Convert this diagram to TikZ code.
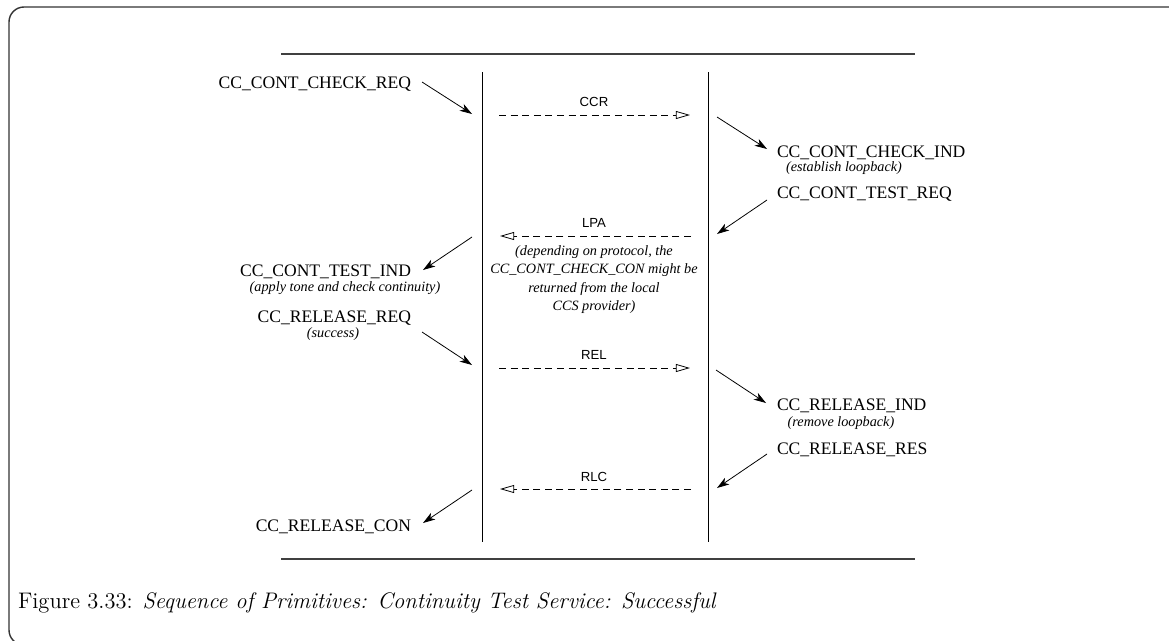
\documentclass[tikz,border=0pt]{standalone}
\usepackage{fontspec}
\newfontfamily\timesfont{Liberation Serif}
\newfontfamily\helvfont{Liberation Sans}
\usepackage{tikz}
\usetikzlibrary{positioning}
\usetikzlibrary{calc}
\usetikzlibrary{arrows.meta}

\begin{document}
\begin{tikzpicture}[
    x=0.2mm, y=-0.2mm,          % one unit is one pixel of the layout
    every node/.style={inner sep=0pt, outer sep=0pt},
    ]
% -------------------------------------------------
\tikzset{
  prim/.style={font=\timesfont\fontsize{10}{12}\selectfont},
  note/.style={font=\timesfont\itshape\fontsize{8.1}{10.3}\selectfont, align=center},
  msglabel/.style={font=\helvfont\fontsize{7.5}{9}\selectfont},
  rule/.style={draw, black!75, line width=0.8pt},
  life/.style={draw, line width=0.45pt},
  msg/.style={draw, line width=0.45pt, dash pattern=on 4pt off 2.6pt,
    shorten <=3.4mm, shorten >=3.6mm, -{Triangle[open, length=8pt, width=4.5pt]}},
  line/.style={draw, line width=0.45pt, -{Stealth[length=7pt, width=4.5pt, inset=2pt]}}
}
\useasboundingbox (0,0) rectangle (1169,640);
\draw[black!80, line width=0.8pt, rounded corners=3mm] (9,7) rectangle (1190,645);
% -------------------------------------------------
% Rules and the two lifelines

\coordinate (h0) at (281,54);
\coordinate (h1) at (915,54);
\coordinate (h2) at (281,559);
\coordinate (h3) at (915,559);
\path [rule] (h0) -- (h1);
\path [rule] (h2) -- (h3);

\coordinate (a0) at (482,72);
\coordinate (a1) at (482,542);
\coordinate (b0) at (708,72);
\coordinate (b1) at (708,542);
\path [life] (a0) -- (a1);
\path [life] (b0) -- (b1);

\foreach \n/\y in {0/115,1/236,2/368,3/489} {
  \coordinate (l\n) at (482,\y);
  \coordinate (r\n) at (708,\y);
}

% -------------------------------------------------
% Placing the primitives

\node [prim, anchor=east] (p0) at (411,84) {CC\_CONT\_CHECK\_REQ};
\node [prim, anchor=west] (p1) at (777,153) {CC\_CONT\_CHECK\_IND};
\node [note] (n1) at (844,168) {(establish loopback)};
\node [prim, anchor=west] (p2) at (777,194) {CC\_CONT\_TEST\_REQ};
\node [prim, anchor=east] (p3) at (411,272) {CC\_CONT\_TEST\_IND};
\node [note] (n3) at (345,288) {(apply tone and check continuity)};
\node [prim, anchor=east] (p4) at (411,318) {CC\_RELEASE\_REQ};
\node [note] (n4) at (333,334) {(success)};
\node [prim, anchor=west] (p5) at (777,406) {CC\_RELEASE\_IND};
\node [note] (n5) at (841,423) {(remove loopback)};
\node [prim, anchor=west] (p6) at (777,450) {CC\_RELEASE\_RES};
\node [prim, anchor=east] (p7) at (411,527) {CC\_RELEASE\_CON};

\node [msglabel] (m0) at (594,102) {CCR};
\node [msglabel] (m1) at (594,223) {LPA};
\node [note, anchor=north] (n2) at (594,246) {(depending on protocol, the\\CC\_CONT\_CHECK\_CON might be\\returned from the local\\CCS provider)};
\node [msglabel] (m2) at (594,355) {REL};
\node [msglabel] (m3) at (594,477) {RLC};

% -------------------------------------------------
% Messages between the lifelines

\path [msg] (l0) -- (r0);
\path [msg] (r1) -- (l1);
\path [msg] (l2) -- (r2);
\path [msg] (r3) -- (l3);

% Primitives to and from the lifelines
\coordinate (s0) at (422,82);   \coordinate (t0) at (472,114);
\coordinate (s1) at (717,117);  \coordinate (t1) at (767,149);
\coordinate (s2) at (767,200);  \coordinate (t2) at (717,234);
\coordinate (s3) at (472,237);  \coordinate (t3) at (423,270);
\coordinate (s4) at (422,332);  \coordinate (t4) at (472,365);
\coordinate (s5) at (716,370);  \coordinate (t5) at (766,403);
\coordinate (s6) at (767,454);  \coordinate (t6) at (717,488);
\coordinate (s7) at (472,490);  \coordinate (t7) at (423,523);

\foreach \i in {0,...,7}
  \path [line] (s\i) -- (t\i);

\node [anchor=base west, font=\fontsize{12.8}{14}\selectfont] (cap) at (18,608)
  {Figure 3.33: \textit{Sequence of Primitives: Continuity Test Service: Successful}};

\end{tikzpicture}
\end{document}
